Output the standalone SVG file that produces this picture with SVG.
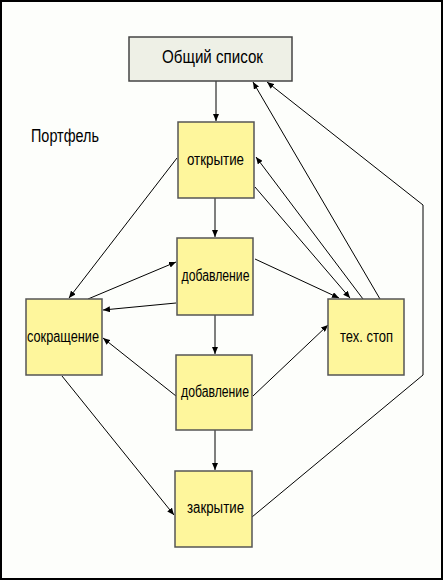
<svg xmlns="http://www.w3.org/2000/svg" width="445" height="582" viewBox="0 0 445 582">
<style>
.bg{fill:#fdfefb;stroke:#000;stroke-width:2}
.box{fill:#fef69c;stroke:#555;stroke-width:1.5}
.top{fill:#eef0e6;stroke:#444;stroke-width:1.5}
.t{font-family:"Liberation Sans Narrow","Liberation Sans",Arial,sans-serif;font-size:16px;fill:#000;text-anchor:middle}
.tl{font-family:"Liberation Sans Narrow","Liberation Sans",Arial,sans-serif;font-size:17.5px;fill:#000}
.c{fill:none;stroke:#000;stroke-width:1}
</style>
<defs>
<marker id="ah" markerUnits="userSpaceOnUse" markerWidth="8" markerHeight="6" refX="7" refY="3" orient="auto">
<path d="M0,0 L7,3 L0,6 z" fill="#000"/>
</marker>
</defs>
<rect class="bg" x="1" y="1" width="441" height="578"/>
<text class="tl" x="31" y="142" textLength="68" lengthAdjust="spacingAndGlyphs">Портфель</text>
<g id="connectors">
<path class="c" d="M216,81 L216,121" marker-end="url(#ah)"/>
<path class="c" d="M215,198 L215,237" marker-end="url(#ah)"/>
<path class="c" d="M215,315 L215,354" marker-end="url(#ah)"/>
<path class="c" d="M215,430 L215,470" marker-end="url(#ah)"/>
<path class="c" d="M177,158 L69,298" marker-end="url(#ah)"/>
<path class="c" d="M88,299 L176,262" marker-end="url(#ah)"/>
<path class="c" d="M176,303 L103,310" marker-end="url(#ah)"/>
<path class="c" d="M176,396 L103,338" marker-end="url(#ah)"/>
<path class="c" d="M253,396 L328,325" marker-end="url(#ah)"/>
<path class="c" d="M62,376 L174,515" marker-end="url(#ah)"/>
<path class="c" d="M252,517 L423,375 L423,205 L267,82" marker-end="url(#ah)"/>
<path class="c" d="M380,299 L253,82" marker-end="url(#ah)"/>
<path class="c" d="M363,299 L256,157" marker-end="url(#ah)"/>
<path class="c" d="M255,187 L350,298" marker-end="url(#ah)"/>
<path class="c" d="M255,259 L339,298" marker-end="url(#ah)"/>
</g>
<g id="obshchiy">
<rect class="top" x="129" y="37" width="163" height="44"/>
<text class="t" x="212.5" y="63" style="font-size:17.5px" textLength="101" lengthAdjust="spacingAndGlyphs">Общий список</text>
</g>
<g id="otkrytie">
<rect class="box" x="178" y="122" width="76" height="76"/>
<text class="t" x="215.5" y="165" textLength="57" lengthAdjust="spacingAndGlyphs">открытие</text>
</g>
<g id="dobavlenie1">
<rect class="box" x="177" y="238" width="76" height="77"/>
<text class="t" x="215.5" y="281" textLength="68" lengthAdjust="spacingAndGlyphs">добавление</text>
</g>
<g id="sokrashchenie">
<rect class="box" x="26" y="299" width="76" height="76"/>
<text class="t" x="63" y="342" textLength="72" lengthAdjust="spacingAndGlyphs">сокращение</text>
</g>
<g id="tekhstop">
<rect class="box" x="328" y="299" width="76" height="76"/>
<text class="t" x="366.5" y="342" textLength="53" lengthAdjust="spacingAndGlyphs">тех. стоп</text>
</g>
<g id="dobavlenie2">
<rect class="box" x="176" y="355" width="76" height="75"/>
<text class="t" x="215" y="397" textLength="68" lengthAdjust="spacingAndGlyphs">добавление</text>
</g>
<g id="zakrytie">
<rect class="box" x="175" y="471" width="77" height="76"/>
<text class="t" x="215.5" y="513" textLength="57" lengthAdjust="spacingAndGlyphs">закрытие</text>
</g>
</svg>
